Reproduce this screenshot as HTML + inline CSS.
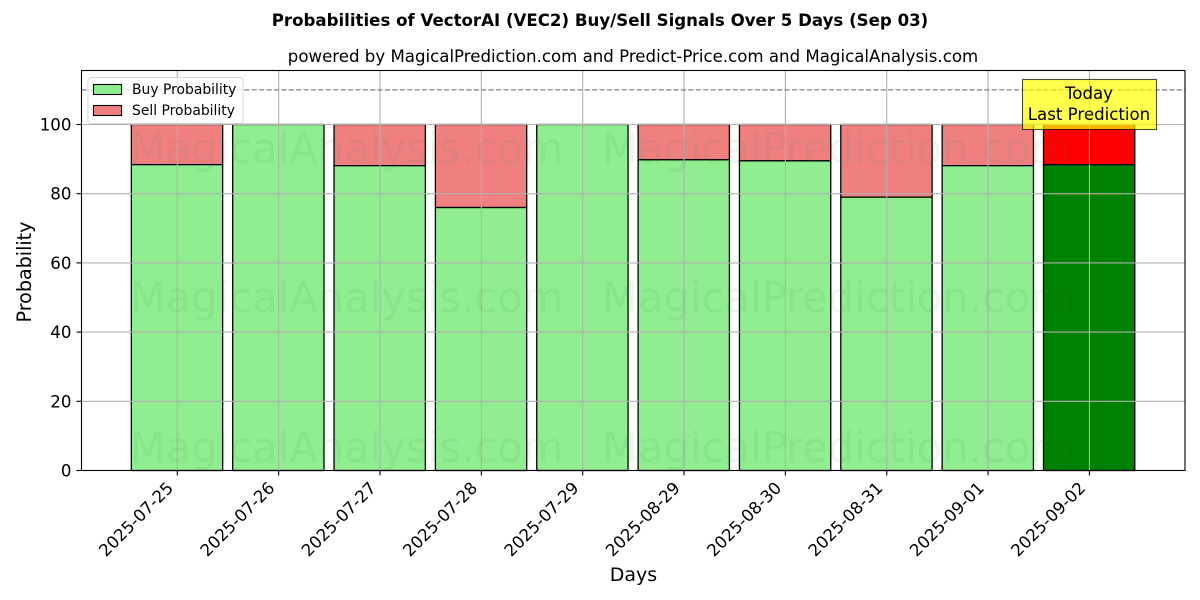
<!DOCTYPE html>
<html>
<head>
<meta charset="utf-8">
<title>Probabilities of VectorAI (VEC2) Buy/Sell Signals</title>
<style>
html,body{margin:0;padding:0;background:#fff;width:1200px;height:600px;overflow:hidden}
svg{display:block}
text{font-family:"DejaVu Sans","Liberation Sans",sans-serif;fill:#000}
</style>
</head>
<body>
<svg id="chart" xmlns="http://www.w3.org/2000/svg" width="1200" height="600" viewBox="0 0 1200 600">
  <text x="600" y="26" text-anchor="middle" font-size="16.62" font-weight="700">Probabilities of VectorAI (VEC2) Buy/Sell Signals Over 5 Days (Sep 03)</text>
  <text x="633" y="62" text-anchor="middle" font-size="16.62">powered by MagicalPrediction.com and Predict-Price.com and MagicalAnalysis.com</text>
  <g id="bars"></g>
  <g id="grid"></g>
  <g id="watermarks"></g>
  <line id="refline" stroke="#808080" stroke-width="1.2" stroke-dasharray="5.2,2.2"></line>
  <rect x="81.5" y="70.5" width="1103.5" height="400" fill="none" stroke="#000" stroke-width="1.1"></rect>
  <g id="axes"></g>
  <text x="633.5" y="581" text-anchor="middle" font-size="19">Days</text>
  <text transform="translate(31,272) rotate(-90)" text-anchor="middle" font-size="19.1">Probability</text>
  <g>
    <rect x="88" y="77.5" width="155" height="46" rx="3" fill="#fff" fill-opacity="0.8" stroke="#ccc" stroke-opacity="0.8"></rect>
    <rect x="93.5" y="84.5" width="28" height="10" fill="#90ee90" stroke="#000" stroke-width="1.1"></rect>
    <text x="132" y="94" font-size="13.9">Buy Probability</text>
    <rect x="93.5" y="105.5" width="28" height="10" fill="#f08080" stroke="#000" stroke-width="1.1"></rect>
    <text x="132" y="115" font-size="13.9">Sell Probability</text>
  </g>
  <g>
    <rect x="1022.5" y="79.5" width="134" height="50" fill="#ffff00" fill-opacity="0.7" stroke="#000" stroke-opacity="0.7" stroke-width="1.1"></rect>
    <text x="1089" y="99" text-anchor="middle" font-size="16.62">Today</text>
    <text x="1089" y="120" text-anchor="middle" font-size="16.62">Last Prediction</text>
  </g>
</svg>
<script>
const categories = ["2025-07-25","2025-07-26","2025-07-27","2025-07-28","2025-07-29","2025-08-29","2025-08-30","2025-08-31","2025-09-01","2025-09-02"];
const buyValues = [88.4,100,88.1,76,100,89.8,89.5,79,88.1,88.4];
const sellValues = [11.6,0,11.9,24,0,10.2,10.5,21,11.9,11.6];
const yTicks = [0,20,40,60,80,100];
const referenceValue = 110;

const NS = 'http://www.w3.org/2000/svg';
const xScale = i => 177.3 + 101.35 * i;
const yScale = v => 470.5 - 3.46 * v;
const barWidth = 91.3;

function make(tag, parent, attrs) {
  const el = document.createElementNS(NS, tag);
  for (const k in attrs) el.setAttribute(k, attrs[k]);
  parent.appendChild(el);
  return el;
}

const barsG = document.getElementById('bars');
const gridG = document.getElementById('grid');
const axesG = document.getElementById('axes');
const waterG = document.getElementById('watermarks');

categories.forEach((c, i) => {
  const last = i === categories.length - 1;
  const x = xScale(i) - barWidth / 2 - 0.3;
  const buyTop = yScale(buyValues[i]);
  const sellTop = yScale(buyValues[i] + sellValues[i]);

  const sell = make('rect', barsG, {x: x, y: sellTop, width: barWidth, height: Math.max(buyTop - sellTop, 0), fill: last ? '#ff0000' : '#f08080', stroke: '#000', 'stroke-width': 1.3});
  
  

  const buy = make('rect', barsG, {x: x, y: buyTop, width: barWidth, height: yScale(0) - buyTop, fill: last ? '#008000' : '#90ee90', stroke: '#000', 'stroke-width': 1.3});
  
  

  const vg = make('line', gridG, {x1: xScale(i), x2: xScale(i), y1: 70.5, y2: 470.5, stroke: '#b0b0b0', 'stroke-width': 1.1});
  
  

  const tick = make('line', axesG, {x1: xScale(i), x2: xScale(i), y1: 470.5, y2: 475.4, stroke: '#000', 'stroke-width': 1.1});
  
  

  const label = make('text', axesG, {transform: 'translate(' + (xScale(i) - 3) + ',489) rotate(-45)', 'text-anchor': 'end', 'font-size': 16.67});
  
  
  label.textContent = c;
});

yTicks.forEach(t => {
  const hg = make('line', gridG, {x1: 81.5, x2: 1185, y1: yScale(t), y2: yScale(t), stroke: '#b0b0b0', 'stroke-width': 1.1});
  
  

  const tick = make('line', axesG, {x1: 76.5, x2: 81.5, y1: yScale(t), y2: yScale(t), stroke: '#000', 'stroke-width': 1.1});
  
  

  const label = make('text', axesG, {x: 71.5, y: yScale(t) + 6, 'text-anchor': 'end', 'font-size': 16.67});
  
  
  label.textContent = t;
});

[163, 312, 462].forEach(y => {
  const a = make('text', waterG, {x: 346.5, y: y, 'text-anchor': 'middle', 'font-size': 41.7, style: 'fill:#3f7f4f;fill-opacity:0.085'});
  
  
  a.textContent = 'MagicalAnalysis.com';
  const b = make('text', waterG, {x: 836.5, y: y, 'text-anchor': 'middle', 'font-size': 41.7, style: 'fill:#3f7f4f;fill-opacity:0.085'});
  
  
  b.textContent = 'MagicalPrediction.com';
});

const ref = document.getElementById('refline');
ref.setAttribute('x1', 81.5);
ref.setAttribute('x2', 1185);
ref.setAttribute('y1', yScale(referenceValue));
ref.setAttribute('y2', yScale(referenceValue));
</script>
</body>
</html>
